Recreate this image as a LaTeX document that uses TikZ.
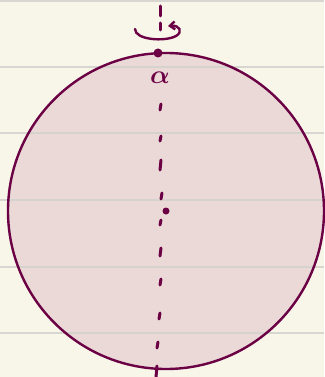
\documentclass[tikz,border=0pt]{standalone}
\usepackage{amsmath}
\usetikzlibrary{arrows.meta}
\definecolor{paper}{HTML}{F8F6E9}
\definecolor{rule}{HTML}{D3D1CC}
\definecolor{ink}{HTML}{6B0045}
\definecolor{disk}{HTML}{EAD9D6}
\tikzset{
  axisdash/.style={ink, line width=3pt, line cap=round},
  rim/.style={ink, line width=2.4pt},
  ruleline/.style={rule, line width=1.4pt, opacity=0.85}
}
\begin{document}
\begin{tikzpicture}[x=1pt,y=-1pt]
  \fill[paper] (0,0) rectangle (324,377);
  \useasboundingbox (0,0) rectangle (324,377);
  \coordinate (c) at (166,211);
  \fill[disk] (c) circle (158);
  \foreach \yy in {1,67,133,200,267,333} \draw[ruleline] (0,\yy) -- (324,\yy);
  \draw[rim] (c) circle (158);
  % dashed axis
  \foreach \xa/\ya/\xb/\yb in {160/6/160/16, 160/23/160/30, 161/104/160/110, 161/136/160/141,
     161/160/160/170, 162/193/161/199, 161/220/160/225, 161/248/160/256, 161/279/160/285,
     160/313/159/319, 158/342/157/348, 157/366/156/377}
     \draw[axisdash] (\xa,\ya) -- (\xb,\yb);
  \fill[ink] (c) circle (3.5);
  \node[circle, fill=ink, inner sep=0pt, minimum size=9pt] (p) at (158,53) {};
  \node[ink, font=\huge, scale=1.25] (alpha) at (160,78) {$\boldsymbol{\alpha}$};
  % rotation arrow
  \coordinate (r0) at (135,29);
  \coordinate (r1) at (168,26);
  \draw[ink, line width=2.4pt, line cap=round, -{Straight Barb[length=5pt,width=8pt]}]
    (r0) .. controls (135,40) and (165,42) .. (176,36)
    .. controls (183,32) and (180,25) .. (r1);
\end{tikzpicture}
\end{document}
